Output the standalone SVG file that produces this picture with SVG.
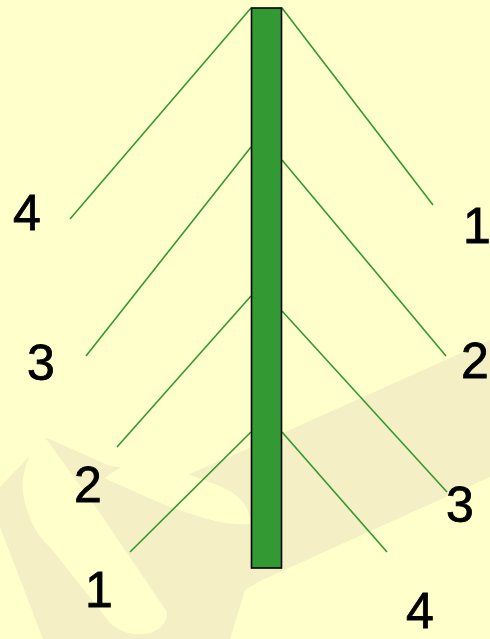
<svg xmlns="http://www.w3.org/2000/svg" width="490" height="639" viewBox="0 0 490 639">
  <style>
    .wm { fill: #F4EFC4; }
    .bg { fill: #FFFFCC; }
    .branch { stroke: #339933; stroke-width: 1.6; fill: none; }
    .lbl { font-family: "Liberation Sans", Arial, sans-serif; font-size: 50px; fill: #000; stroke: #000; stroke-width: 0.8; text-anchor: middle; }
  </style>
  <rect class="bg" x="0" y="0" width="490" height="639"/>
  <g id="watermark">
    <path class="wm" d="M0,487 L47,438 L110,466 L187,475 L245,450 L490,340 L490,477 L260,581 L245,590 L230,639 L0,639 Z"/>
    <path class="bg" d="M0,527 L43,639 L0,639 Z"/>
    <path class="bg" d="M23,493 C26,512 35,535 50,547 L110,623 C130,642 168,636 167,612 L100,513 L47,440 C35,436 20,470 23,493 Z"/>
    <path class="bg" d="M104,478 L137,457 C180,472 215,482 233,493 C245,502 251,512 250,524 C230,526 205,520 160,503 Z"/>
  </g>
  <g id="connectors">
    <line class="branch" x1="251" y1="8" x2="70" y2="219"/>
    <line class="branch" x1="251" y1="147" x2="86" y2="356"/>
    <line class="branch" x1="251" y1="296" x2="117" y2="447"/>
    <line class="branch" x1="251" y1="432" x2="130" y2="552"/>
    <line class="branch" x1="282" y1="8" x2="433" y2="205"/>
    <line class="branch" x1="282" y1="160" x2="446" y2="356"/>
    <line class="branch" x1="282" y1="311" x2="447" y2="492"/>
    <line class="branch" x1="282" y1="432" x2="387" y2="552"/>
  </g>
  <g id="trunk">
    <rect x="251.5" y="8" width="30" height="560" fill="#339933" stroke="#000" stroke-width="1.6"/>
  </g>
  <g id="labels-left">
    <text class="lbl" x="27" y="230">4</text>
    <text class="lbl" x="41" y="380">3</text>
    <text class="lbl" x="88" y="502">2</text>
    <text class="lbl" x="99" y="607">1</text>
  </g>
  <g id="labels-right">
    <text class="lbl" x="477" y="243">1</text>
    <text class="lbl" x="475" y="378">2</text>
    <text class="lbl" x="420" y="628">4</text>
    <text class="lbl" x="460" y="522">3</text>
  </g>
</svg>
